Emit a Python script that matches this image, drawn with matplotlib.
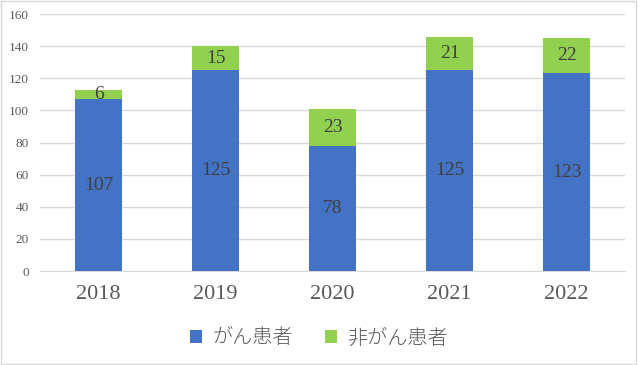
import numpy as np
import matplotlib.pyplot as plt
from matplotlib.patches import Rectangle

years = ['2018', '2019', '2020', '2021', '2022']
cancer = [107, 125, 78, 125, 123]
non_cancer = [6, 15, 23, 21, 22]
labels = ['がん患者', '非がん患者']

blue = '#4472C4'
green = '#92D050'
num_font = 'Liberation Serif'
jp_font = ['Noto Sans CJK JP', 'DejaVu Sans']

fig = plt.figure(figsize=(6.38, 3.65), dpi=100)
ax = fig.add_axes([0.0627, 0.2575, 0.917, 0.704])

x = np.arange(len(years))
w = 0.4
b1 = ax.bar(x, cancer, w, color=blue, zorder=3, label=labels[0])
b2 = ax.bar(x, non_cancer, w, bottom=cancer, color=green, zorder=3, label=labels[1])

for xi, c, n in zip(x, cancer, non_cancer):
    ax.text(xi, c / 2, str(c), ha='center', va='center', fontsize=14,
            family=num_font, color='#404040', zorder=4)
    ax.text(xi, c + n / 2, str(n), ha='center', va='center', fontsize=14,
            family=num_font, color='#404040', zorder=4)

ax.set_xlim(-0.5, len(years) - 0.5)
ax.set_ylim(0, 160)
ax.set_yticks(range(0, 161, 20))
ax.set_xticks(x)
ax.set_xticklabels(years)
ax.grid(axis='y', color='#D9D9D9', linewidth=1, zorder=0)
for s in ['top', 'right', 'left']:
    ax.spines[s].set_visible(False)
ax.spines['bottom'].set_color('#D9D9D9')
ax.tick_params(axis='both', length=0)
ax.tick_params(axis='y', pad=8)
ax.tick_params(axis='x', pad=10)
for t in ax.get_yticklabels():
    t.set_fontfamily(num_font)
    t.set_fontsize(9.5)
    t.set_color('#595959')
for t in ax.get_xticklabels():
    t.set_fontfamily(num_font)
    t.set_fontsize(16)
    t.set_color('#595959')

leg = fig.legend(handles=[b1, b2], labels=labels, loc='center',
                 bbox_to_anchor=(0.5, 0.074), ncol=2, frameon=False,
                 prop={'family': jp_font, 'size': 14.5, 'weight': 'light'},
                 handlelength=0.6, handleheight=0.6, handletextpad=0.5,
                 columnspacing=1.6)
for t in leg.get_texts():
    t.set_color('#595959')

fig.patches.append(Rectangle((0.002, 0.003), 0.995, 0.994, transform=fig.transFigure,
                             fill=False, edgecolor='#D9D9D9', linewidth=1))

fig.savefig('out.png', dpi=100)
